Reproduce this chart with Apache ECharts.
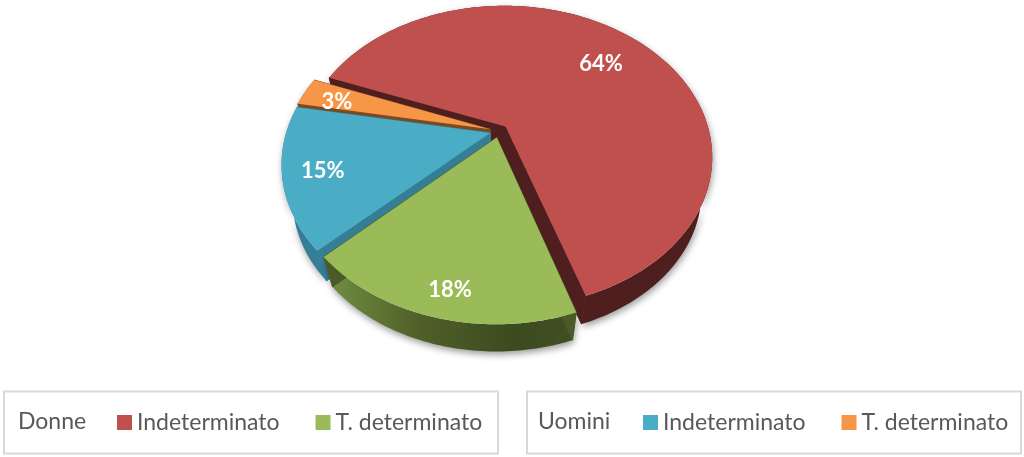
<!DOCTYPE html>
<html>
<head>
<meta charset="utf-8">
<style>html,body{margin:0;padding:0;background:#fff}#c{width:1024px;height:457px}</style>
<script src="https://cdn.jsdelivr.net/npm/echarts@6/dist/echarts.min.js"></script>
</head>
<body>
<div id="c"></div>
<script>
// Data, clockwise from the start of the first slice
var groups = ['Donne', 'Donne', 'Uomini', 'Uomini'];
var categories = ['Indeterminato', 'T. determinato', 'Indeterminato', 'T. determinato'];
var shares = [64, 18, 15, 3];

// Styles, same order as the data
var topColors = ['#C0504D', '#9BBB59', '#4BACC6', '#F79646'];
var cutColors = ['#4E1F1E', '#4A5A28', '#357F96', '#7A4A20'];
var labelRadii = [0.72, 0.86, 0.81, 0.8];
var labelNudges = [[0, 3], [5, 3], [-1, 2], [-4, 3]];

// 3D projection constants
var START = 161.6 - 230.4, CX = 499, CY = 131, RX = 203.5, RY = 146.5, PERSP = 0.2, EXPLODE = 0.045;
var BOTTOM_SX = 0.95, BOTTOM_SY = 0.96, BOTTOM_DY = 35;
var FONT = 'Lato, Carlito, "Noto Sans", sans-serif';

function project(u, v) {
  var w = 1 - PERSP * v;
  return [CX + RX * u / w, CY + RY * v / w];
}
function lower(p) {
  return [CX + (p[0] - CX) * BOTTOM_SX, CY + (p[1] - CY) * BOTTOM_SY + BOTTOM_DY];
}
function rad(d) { return d * Math.PI / 180; }
var total = shares.reduce(function (a, b) { return a + b; }, 0);

function sliceRender(idx) {
  return function (params, api) {
    var before = 0;
    for (var i = 0; i < idx; i++) before += shares[i];
    var a0 = START + before / total * 360;
    var sweep = api.value(0) / total * 360;
    var mid = a0 + sweep / 2;
    var ou = EXPLODE * Math.sin(rad(mid)), ov = -EXPLODE * Math.cos(rad(mid));
    var pt = function (a, r) {
      return project(ou + r * Math.sin(rad(a)), ov - r * Math.cos(rad(a)));
    };
    var arc = [], n = Math.max(6, Math.ceil(sweep));
    for (var k = 0; k <= n; k++) arc.push(pt(a0 + sweep * k / n, 1));
    var apex = project(ou, ov);
    var lowArc = arc.map(lower).reverse();
    var sideFill = cutColors[idx];
    if (idx === 1) {
      sideFill = { type: 'linear', x: 335, y: 0, x2: 575, y2: 0, global: true, colorStops: [
        { offset: 0, color: '#6F8A3F' }, { offset: 0.35, color: '#4F6029' },
        { offset: 0.75, color: '#3C4A20' }, { offset: 1, color: '#414F22' }] };
    }
    var shadow = { shadowBlur: 7, shadowColor: 'rgba(0,0,0,0.4)', shadowOffsetY: 3, shadowOffsetX: 1 };
    var wall = Object.assign({ fill: sideFill }, shadow);
    var cutStyle = { fill: cutColors[idx], stroke: cutColors[idx], lineWidth: 1 };
    var children = [
      { type: 'polygon', shape: { points: arc.concat(lowArc) }, style: wall },
      { type: 'polygon', shape: { points: [apex, arc[0], lower(arc[0]), lower(apex)] }, style: cutStyle },
      { type: 'polygon', shape: { points: [apex, arc[n], lower(arc[n]), lower(apex)] }, style: cutStyle }
    ];
    if (idx === 0) {
      // dark hub where the separated slices leave the centre open
      var hub = [];
      for (var h = 0; h < 24; h++) {
        hub.push(project(EXPLODE * 1.1 * Math.sin(rad(h * 15)), EXPLODE * 1.1 * Math.cos(rad(h * 15)) + 0.03));
      }
      children.push({ type: 'polygon', shape: { points: hub }, style: cutStyle });
    }
    children.push({ type: 'polygon', shape: { points: [apex].concat(arc) }, style: { fill: topColors[idx] } });
    var lp = pt(mid, labelRadii[idx]);
    children.push({
      type: 'text', z2: 100,
      style: { text: api.value(0) + '%', x: lp[0] + labelNudges[idx][0], y: lp[1] + labelNudges[idx][1], fill: '#fff', font: 'bold 22px ' + FONT, align: 'center', verticalAlign: 'middle' }
    });
    return { type: 'group', children: children };
  };
}

var drawOrder = [0, 3, 2, 1];
var seriesList = drawOrder.map(function (i) {
  return {
    type: 'custom',
    name: groups[i] + '|' + categories[i],
    coordinateSystem: 'none',
    silent: true,
    itemStyle: { color: topColors[i] },
    data: [[shares[i]]],
    renderItem: sliceRender(i)
  };
});

function legendFor(g, left) {
  var names = [];
  groups.forEach(function (x, i) { if (x === g) names.push(x + '|' + categories[i]); });
  return {
    left: left, top: 411, orient: 'horizontal', padding: 0,
    itemWidth: 15, itemHeight: 15, itemGap: 36, icon: 'rect',
    selectedMode: false, data: names,
    formatter: function (n) { return n.split('|')[1]; },
    textStyle: { fontFamily: FONT, fontSize: 23, color: '#595959', padding: [0, 0, 5, 0] }
  };
}
function box(x) {
  return { type: 'rect', shape: { x: x, y: 391.5, width: 494, height: 62 }, style: { fill: '#fff', stroke: '#D9D9D9', lineWidth: 2 }, z: -1 };
}
function head(t, x) {
  return { type: 'text', style: { text: t, x: x, y: 422, fill: '#595959', font: '23px ' + FONT, verticalAlign: 'middle' } };
}

var chart = echarts.init(document.getElementById('c'), null, { renderer: 'canvas' });
chart.setOption({
  animation: false,
  backgroundColor: '#fff',
  legend: [legendFor('Donne', 117), legendFor('Uomini', 643)],
  graphic: [box(4), box(527), head('Donne', 18), head('Uomini', 538)],
  series: seriesList
});
</script>
</body>
</html>
